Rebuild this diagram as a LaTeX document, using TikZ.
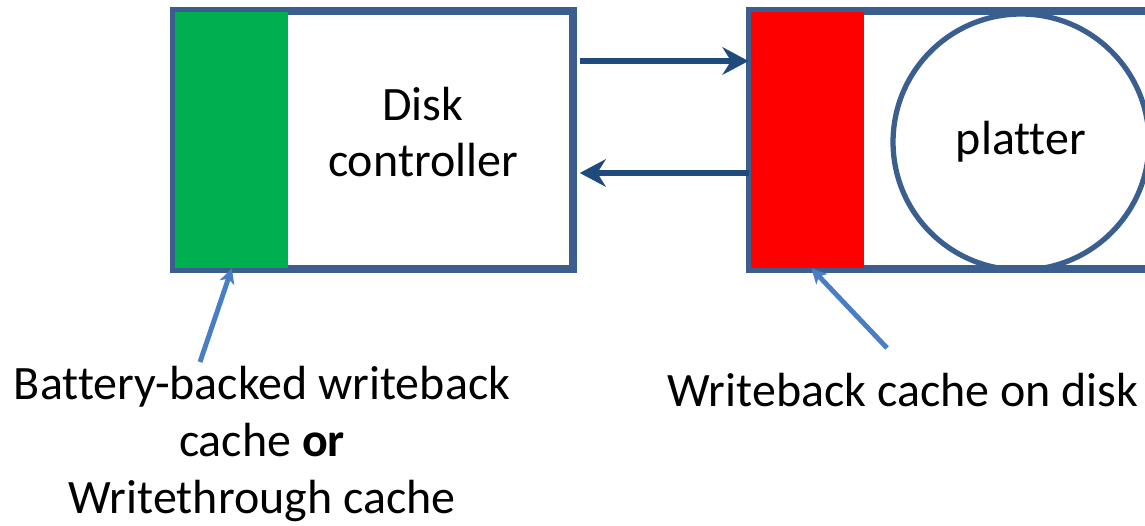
\documentclass[tikz,border=0pt]{standalone}
\usepackage{fontspec}
\setmainfont{Carlito}[Ligatures=NoCommon]
\usepackage{tikz}
\usetikzlibrary{arrows.meta}

\definecolor{boxblue}{RGB}{58,94,142}
\definecolor{flowblue}{RGB}{31,74,126}
\definecolor{tipblue}{RGB}{74,126,196}
\definecolor{cachegreen}{RGB}{0,176,80}

\tikzset{
  box/.style={draw=boxblue, line width=2.9pt, minimum height=5.12cm, inner sep=0pt},
  cache/.style={minimum width=2.26cm, minimum height=5.12cm, inner sep=0pt},
  flow/.style={draw=flowblue, line width=3.4pt, -{Stealth[length=0.52cm, width=0.55cm, inset=0.17cm]}},
  callout/.style={draw=tipblue, line width=2.8pt, -{Stealth[length=0.3cm, width=0.3cm, inset=0.08cm]}},
  lbl/.style={font=\fontsize{27.3}{32.4}\selectfont, align=center, inner sep=0pt}
}

\begin{document}
\begin{tikzpicture}[x=0.02cm, y=-0.02cm]

			\useasboundingbox (0,0) rectangle (1145,526);
			\clip (0,0) rectangle (1145,526);

			% controller side
			\node [box, minimum width=7.94cm] (ctrl) at (373.5,140) {};
			\node [cache, fill=cachegreen, anchor=west] (green) at ([xshift=1.45pt]ctrl.west) {};
			\node [lbl] (ctrltxt) at (423,132) {Disk\\controller};

			% disk side
			\node [box, minimum width=8.28cm] (disk) at (958,140) {};
			\node [cache, fill=red, anchor=west] (red) at ([xshift=1.45pt]disk.west) {};
			\node [draw=boxblue, line width=3pt, circle, minimum size=5.12cm, inner sep=0pt,
			       font=\fontsize{27.3}{32.4}\selectfont] (platter) at (1021,142) {platter};
			\draw [box] (ctrl.north west) rectangle (ctrl.south east);
			\draw [box] (disk.north west) rectangle (disk.south east);

			\draw [flow] ([xshift=3pt, yshift=1.58cm]ctrl.east) -- ([yshift=1.58cm]disk.west);
			\draw [flow] ([yshift=-0.66cm]disk.west) -- ([xshift=3pt, yshift=-0.66cm]ctrl.east);

			% labels
			\node [lbl] (lblA) at (262,444) {Battery-backed writeback\\cache \textbf{or}\\Writethrough cache};
			\node [lbl] (lblB) at (903,390) {Writeback cache on disk};

			\coordinate (tailA) at (200,362);
			\coordinate (tailB) at (887,348);
			\draw [callout] (tailA) -- (green.south);
			\draw [callout] (tailB) -- ([xshift=2pt]red.south);

\end{tikzpicture}
\end{document}
